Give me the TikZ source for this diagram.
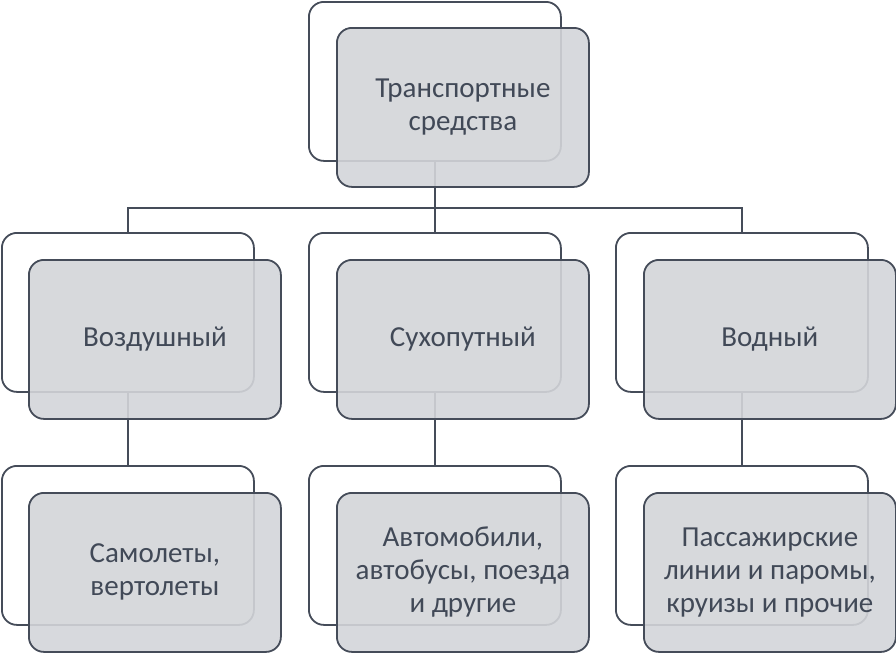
\documentclass[tikz,border=0pt]{standalone}
\usepackage{fontspec}
\setmainfont{Carlito}
\definecolor{edge}{HTML}{454C59}
\definecolor{boxfill}{HTML}{D3D5D9}
\definecolor{txt}{HTML}{414957}
\tikzset{
  backbox/.style={draw=edge, line width=1.8pt, fill=white, rounded corners=15pt,
    minimum width=252pt, minimum height=159pt, anchor=north west, inner sep=0pt},
  frontbox/.style={draw=edge, line width=1.8pt, fill=boxfill, fill opacity=0.9, text opacity=1,
    rounded corners=15pt, minimum width=252pt, minimum height=159pt, anchor=north west,
    inner sep=0pt, align=center, text=txt, font=\fontsize{29}{33}\selectfont},
  conn/.style={draw=edge, line width=1.8pt}
}
\begin{document}
\begin{tikzpicture}[x=1pt,y=-1pt]
\useasboundingbox (0,0) rectangle (896,653);
% back frames
\node[backbox] (tb) at (308,1) {};
\node[backbox] (lb) at (1,232) {};
\node[backbox] (mb) at (308,232) {};
\node[backbox] (rb) at (615,232) {};
\node[backbox] (lbb) at (1,465) {};
\node[backbox] (mbb) at (308,465) {};
\node[backbox] (rbb) at (615,465) {};
% connectors
\coordinate (j) at (434,208);
\draw[conn] (tb.south) -- (mb.north);
\draw[conn] (lb.north) |- (j) -| (rb.north);
\draw[conn] (lb.south) -- (lbb.north);
\draw[conn] (mb.south) -- (mbb.north);
\draw[conn] (rb.south) -- (rbb.north);
% front boxes
\node[frontbox] (tf) at (336,27) {Транспортные\\средства};
\node[frontbox] (lf) at (28,259) {Воздушный};
\node[frontbox] (mf) at (336,259) {Сухопутный};
\node[frontbox] (rf) at (643,259) {Водный};
\node[frontbox] (lbf) at (28,492) {Самолеты,\\вертолеты};
\node[frontbox] (mbf) at (336,492) {Автомобили,\\автобусы, поезда\\и другие};
\node[frontbox] (rbf) at (643,492) {Пассажирские\\линии и паромы,\\круизы и прочие};
\end{tikzpicture}
\end{document}
